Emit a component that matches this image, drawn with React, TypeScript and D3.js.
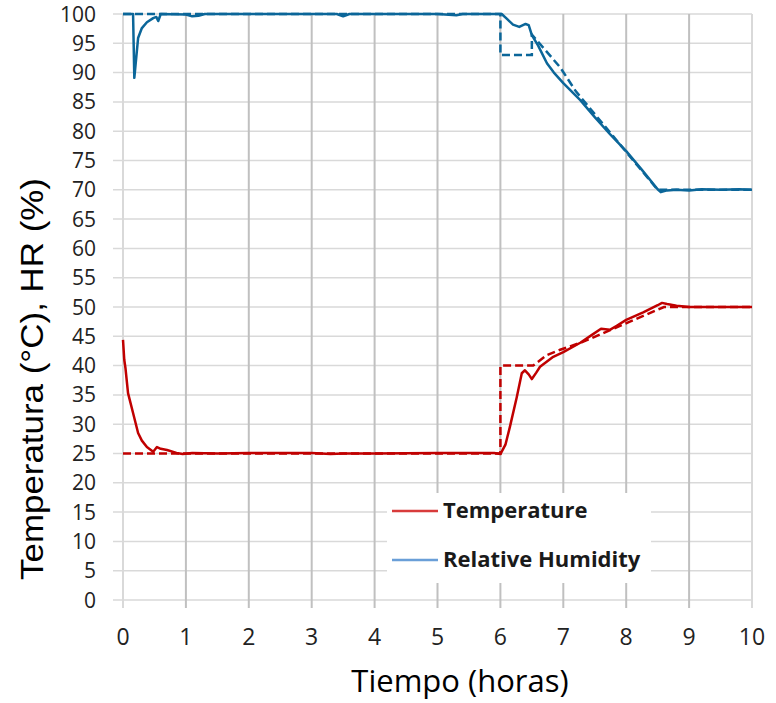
import React from "react";
import * as d3 from "d3";

// humidity (HR) measured and setpoint
const humTime = [0, 0.16, 0.18, 0.24, 0.3, 0.38, 0.48, 0.53, 0.56, 0.6, 1.0, 1.1, 1.2, 1.3, 2.0, 3.4, 3.5, 3.6, 4.5, 5.0, 5.3, 5.4, 6.02, 6.1, 6.2, 6.3, 6.4, 6.45, 6.5, 6.6, 6.74, 6.85, 7.0, 7.27, 7.5, 7.75, 8.0, 8.25, 8.5, 8.55, 8.65, 8.8, 9.0, 9.2, 9.5, 9.8, 10];
const humValues = [100, 100, 89.1, 95.9, 97.6, 98.6, 99.3, 99.5, 98.8, 100, 99.9, 99.6, 99.7, 100, 100, 100, 99.6, 100, 100, 100, 99.8, 100, 100, 99.2, 98.2, 97.8, 98.3, 98.1, 96.4, 94.6, 91.6, 90, 88.2, 85.3, 82.4, 79.4, 76.6, 73.4, 70.1, 69.6, 69.9, 70, 69.9, 70.1, 70, 70.1, 70];
const humSetTime = [0, 6, 6, 6.5, 6.5, 6.95, 7.2, 8.5, 10];
const humSetValues = [100, 100, 93, 93, 96.5, 90.9, 86.8, 70, 70];

// temperature measured and setpoint
const tempTime = [0, 0.02, 0.04, 0.08, 0.16, 0.24, 0.3, 0.38, 0.48, 0.54, 0.6, 0.7, 0.85, 0.95, 1.1, 1.5, 2, 3, 3.3, 3.5, 4, 5, 5.9, 6.0, 6.08, 6.15, 6.26, 6.34, 6.39, 6.45, 6.5, 6.57, 6.63, 6.84, 7.0, 7.27, 7.45, 7.6, 7.74, 7.85, 8.0, 8.27, 8.5, 8.57, 8.65, 8.8, 9, 10];
const tempValues = [44.4, 41, 39.5, 35.3, 31.9, 28.5, 27.2, 26.1, 25.3, 26.1, 25.8, 25.6, 25.1, 24.9, 25.1, 25, 25.1, 25.1, 24.9, 25, 25, 25.1, 25.1, 24.9, 26.5, 29.5, 34.6, 38.7, 39.2, 38.5, 37.7, 38.8, 39.8, 41.5, 42.3, 43.9, 45.2, 46.3, 46.1, 46.8, 47.8, 49.1, 50.3, 50.7, 50.5, 50.2, 50, 50];
const tempSetTime = [0, 6, 6, 6.52, 6.74, 6.95, 7.3, 8.6, 10];
const tempSetValues = [25, 25, 40, 40, 41.8, 42.7, 44, 50, 50];

const xTicks = d3.range(0, 11, 1);
const yTicks = d3.range(0, 101, 5);
const legendLabels = ["Temperature", "Relative Humidity"];

const W = 776;
const H = 703;
const FONT = "'Open Sans', 'Noto Sans', sans-serif";
const TEMP = "#c00000";
const HUM = "#0b6699";

export default function App() {
  const x = d3.scaleLinear().domain([0, 10]).range([123, 752]);
  const y = d3.scaleLinear().domain([0, 100]).range([600, 14]);

  const line = d3
    .line<[number, number]>()
    .x((d) => x(d[0]))
    .y((d) => y(d[1]));

  const zip = (t: number[], v: number[]) => t.map((d, i) => [d, v[i]] as [number, number]);

  return (
    <svg width={W} height={H} style={{ position: "absolute", left: 0, top: 0, background: "#fff" }}>
      <rect width={W} height={H} fill="#fff" />
      {/* horizontal grid */}
      {yTicks.map((t) => (
        <line key={"h" + t} x1={113} x2={752} y1={y(t)} y2={y(t)} stroke="#d9d9d9" strokeWidth={1.5} />
      ))}
      {/* vertical grid */}
      {xTicks.map((t) => (
        <line
          key={"v" + t}
          x1={x(t)}
          x2={x(t)}
          y1={y(100)}
          y2={608}
          stroke={t === 0 || t === 10 ? "#d9d9d9" : "#c0c0c0"}
          strokeWidth={2}
        />
      ))}
      {/* y tick labels */}
      {yTicks.map((t) => (
        <text key={"yl" + t} x={96} y={y(t)} dy="0.36em" textAnchor="end" fontFamily={FONT} fontSize={21} fill="#222">
          {t}
        </text>
      ))}
      {/* x tick labels */}
      {xTicks.map((t) => (
        <text key={"xl" + t} x={x(t)} y={645} textAnchor="middle" fontFamily={FONT} fontSize={23} fill="#222">
          {t}
        </text>
      ))}
      <text x={460} y={692} textAnchor="middle" fontFamily={FONT} fontSize={31} fill="#000">
        Tiempo (horas)
      </text>
      <text
        transform="translate(43,379) rotate(-90)"
        textAnchor="middle"
        fontFamily="'Liberation Sans', Arial, sans-serif"
        fontSize={31}
        textLength={402}
        lengthAdjust="spacingAndGlyphs"
        fill="#000"
      >
        Temperatura (°C), HR (%)
      </text>

      {/* series */}
      <path d={line(zip(humSetTime, humSetValues)) || ""} fill="none" stroke={HUM} strokeWidth={2.5} strokeDasharray="8,4" />
      <path d={line(zip(humTime, humValues)) || ""} fill="none" stroke={HUM} strokeWidth={2.5} strokeLinejoin="round" />
      <path d={line(zip(tempSetTime, tempSetValues)) || ""} fill="none" stroke={TEMP} strokeWidth={2.5} strokeDasharray="8,4" />
      <path d={line(zip(tempTime, tempValues)) || ""} fill="none" stroke={TEMP} strokeWidth={2.5} strokeLinejoin="round" />

      {/* legend */}
      <g>
        <rect x={387} y={493} width={264} height={90} fill="#fff" />
        <line x1={392} x2={438} y1={511} y2={511} stroke="#d83b3b" strokeWidth={2.5} />
        <text x={443} y={518} fontFamily={FONT} fontWeight="bold" fontSize={22} fill="#1a1a1a">
          {legendLabels[0]}
        </text>
        <line x1={392} x2={438} y1={560} y2={560} stroke="#6a9fd8" strokeWidth={2.5} />
        <text x={443} y={567} fontFamily={FONT} fontWeight="bold" fontSize={22} fill="#1a1a1a">
          {legendLabels[1]}
        </text>
      </g>
    </svg>
  );
}
